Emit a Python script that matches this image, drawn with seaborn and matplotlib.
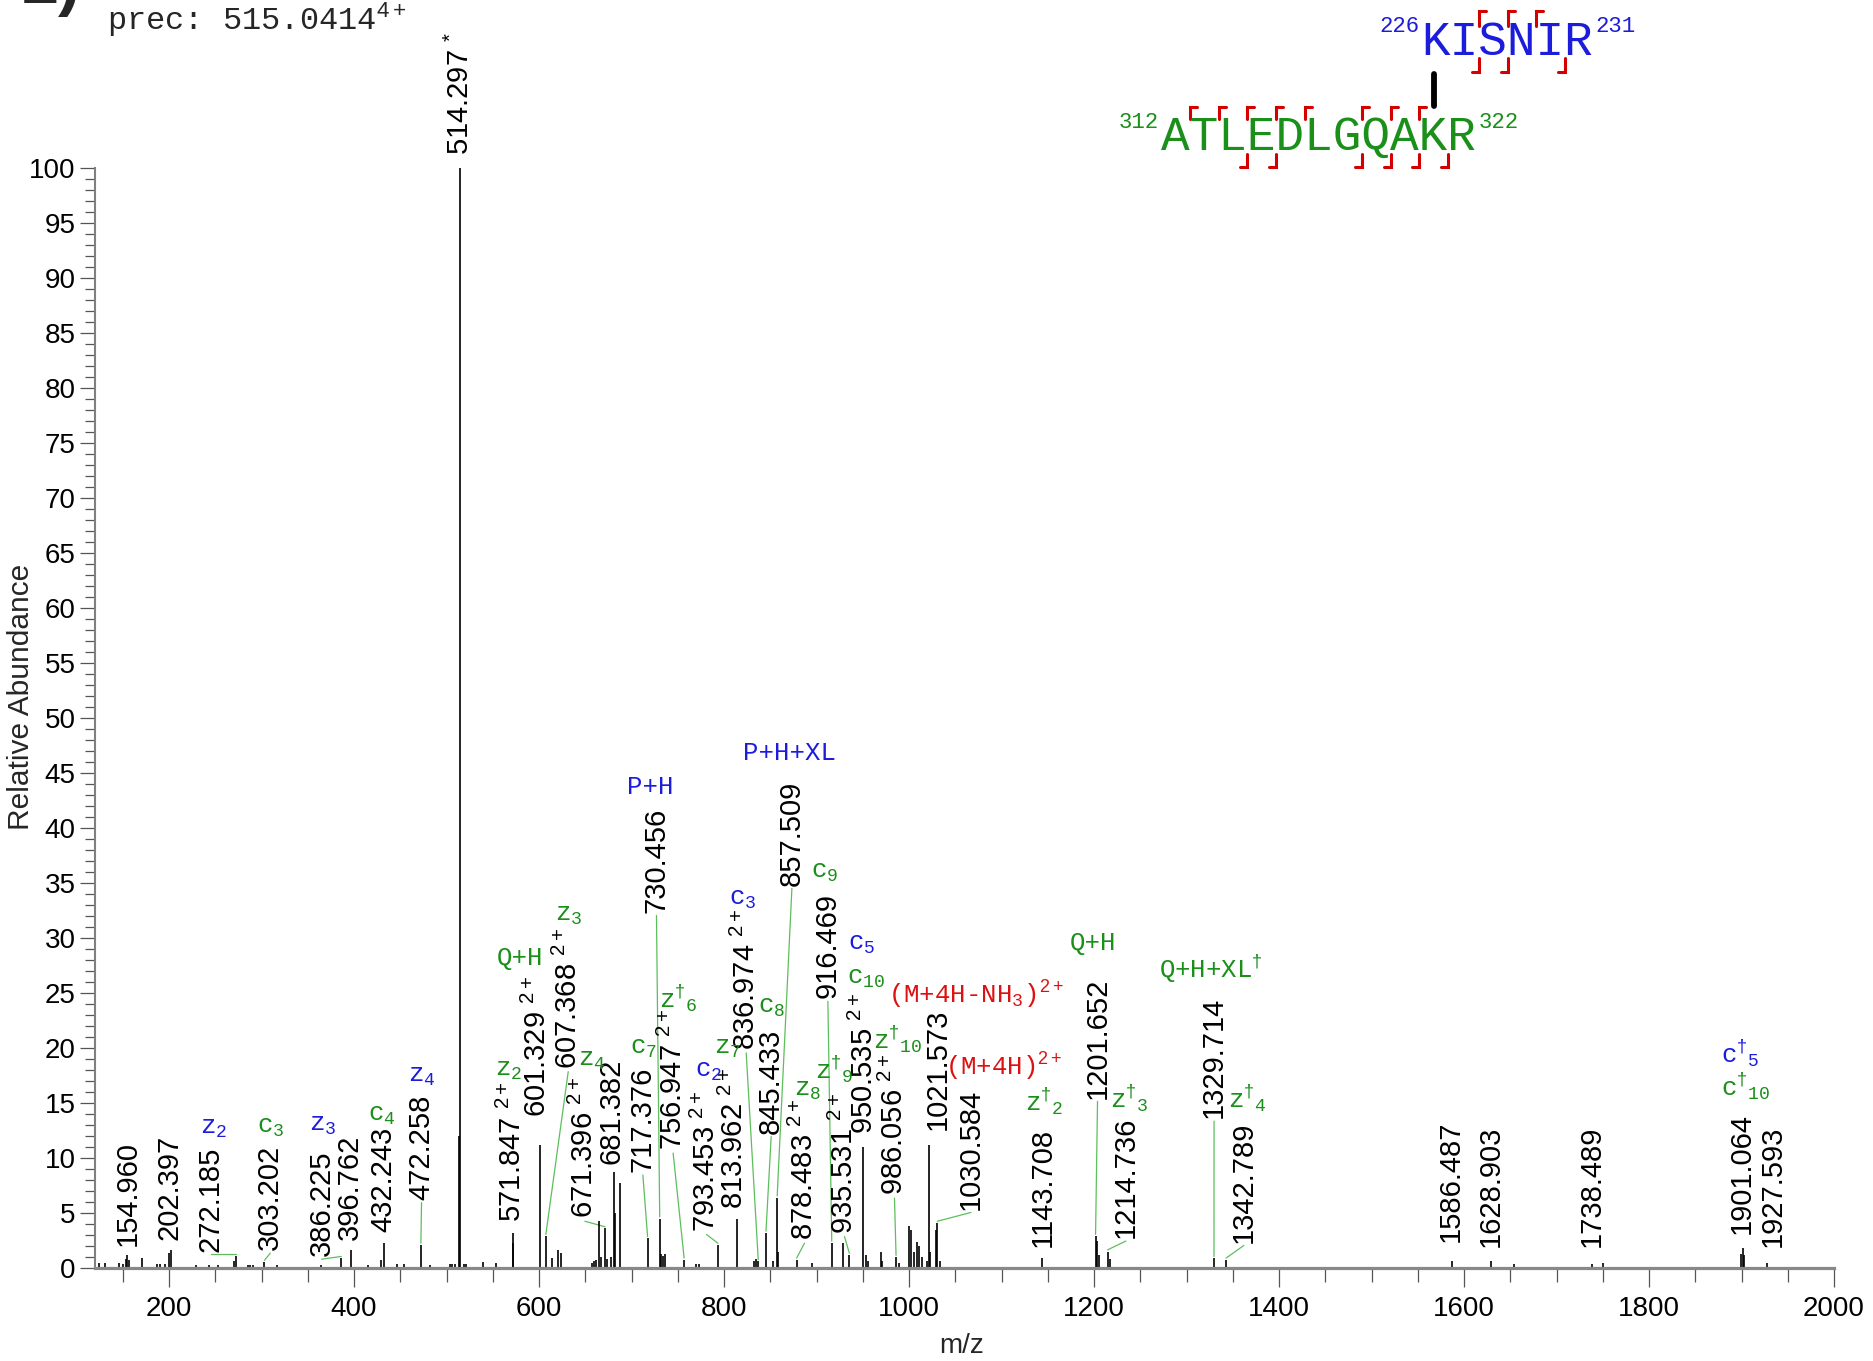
import numpy as np
import pandas as pd
import matplotlib
matplotlib.use("Agg")
import matplotlib.pyplot as plt
import seaborn as sns
from matplotlib.lines import Line2D
from matplotlib.ticker import MultipleLocator

# ------------------------------------------------------------------ data
peak_mz = [124.7, 131.0, 145.5, 150.0, 154.0, 155.0, 157.0, 170.6, 187.5, 190.0,
           196.0, 200.0, 202.4, 229.0, 243.0, 252.6, 270.0, 272.2, 285.4, 288.0,
           291.0, 303.2, 316.7, 364.0, 386.2, 396.8, 414.7, 428.7, 432.2, 447.0,
           454.0, 472.3, 482.0, 503.4, 506.0, 508.7, 513.3, 514.3, 519.3, 521.0,
           539.0, 554.0, 571.8, 572.4, 601.3, 607.4, 613.8, 620.4, 623.7, 657.8,
           659.0, 661.6, 665.0, 666.5, 671.4, 673.7, 677.6, 681.4, 682.4, 687.2,
           717.4, 730.5, 731.6, 734.0, 736.4, 756.9, 769.9, 772.7, 793.5, 814.0,
           832.3, 834.5, 837.0, 845.4, 852.7, 857.5, 858.5, 878.5, 894.6, 916.5,
           928.3, 935.5, 950.5, 953.0, 955.9, 969.6, 971.3, 986.0, 988.9, 1000.0,
           1002.2, 1005.5, 1008.3, 1011.0, 1013.8, 1019.3, 1021.6, 1023.2, 1028.7, 1030.6,
           1033.0, 1143.7, 1201.7, 1203.0, 1205.2, 1214.7, 1216.8, 1329.7, 1342.8, 1586.5,
           1628.9, 1654.0, 1738.5, 1750.0, 1899.5, 1901.1, 1902.5, 1927.6]
peak_int = [0.5, 0.5, 0.5, 0.4, 0.8, 1.2, 0.7, 0.9, 0.4, 0.4,
            0.4, 1.4, 1.6, 0.3, 0.3, 0.3, 0.6, 1.1, 0.3, 0.3,
            0.3, 0.55, 0.3, 0.3, 0.9, 1.6, 0.3, 0.7, 2.3, 0.4,
            0.4, 2.1, 0.3, 0.4, 0.4, 0.4, 12.0, 100.0, 0.4, 0.4,
            0.55, 0.45, 3.2, 2.3, 11.2, 2.9, 0.9, 1.6, 1.4, 0.5,
            0.6, 0.7, 4.3, 1.0, 3.6, 0.8, 1.0, 8.7, 5.0, 7.7,
            2.7, 4.5, 1.3, 1.1, 1.3, 0.75, 0.4, 0.4, 2.1, 4.5,
            0.6, 0.8, 0.6, 3.2, 0.6, 6.4, 1.5, 0.75, 0.5, 2.3,
            2.3, 1.2, 11.0, 1.2, 0.6, 1.5, 0.6, 1.0, 0.5, 3.8,
            3.5, 1.5, 2.4, 2.0, 1.0, 0.6, 11.2, 1.5, 3.5, 4.1,
            0.6, 0.9, 2.9, 2.5, 1.2, 1.5, 0.8, 0.9, 0.75, 0.6,
            0.6, 0.35, 0.4, 0.5, 1.3, 1.8, 1.2, 0.5]

label_text = ["154.960", "202.397", "272.185", "303.202", "386.225", "396.762",
              "432.243", "472.258", "514.297", "571.847", "601.329", "607.368",
              "671.396", "681.382", "717.376", "730.456", "756.947", "793.453",
              "813.962", "836.974", "845.433", "857.509", "878.483", "916.469",
              "935.531", "950.535", "986.056", "1021.573", "1030.584", "1143.708",
              "1201.652", "1214.736", "1329.714", "1342.789", "1586.487", "1628.903",
              "1738.489", "1901.064", "1927.593"]
label_sup = ["", "", "", "", "", "",
             "", "", "*", "2+", "2+", "2+",
             "2+", "", "", "", "2+", "2+",
             "2+", "2+", "", "", "2+", "",
             "2+", "2+", "2+", "", "", "",
             "", "", "", "", "", "",
             "", "", ""]
label_x = [155.1, 201.0, 245.0, 309.5, 365.0, 395.4,
           431.5, 473.0, 514.7, 571.4, 598.0, 631.6,
           649.6, 678.5, 712.3, 727.0, 745.0, 781.0,
           810.8, 824.0, 851.0, 873.4, 887.0, 912.3,
           930.3, 951.9, 984.3, 1031.0, 1067.0, 1144.5,
           1203.8, 1234.4, 1329.8, 1362.0, 1585.3, 1629.3,
           1738.4, 1900.3, 1933.8]
label_y = [2.0, 2.5, 1.5, 1.6, 1.05, 2.56,
           3.3, 6.2, 101.2, 4.2, 13.7, 18.1,
           4.5, 9.5, 8.7, 32.3, 10.7, 3.3,
           5.4, 19.8, 12.2, 34.75, 2.5, 24.5,
           3.1, 12.2, 6.6, 12.5, 5.3, 1.95,
           15.4, 2.7, 13.6, 2.3, 2.4, 1.9,
           1.9, 3.1, 1.9]
nan = np.nan
leader_mz = [nan, nan, 272.2, 303.2, 386.2, nan,
             nan, 472.3, nan, nan, nan, 607.4,
             671.4, nan, 717.4, 730.5, 756.9, 793.5,
             nan, 837.0, 845.4, 857.5, 878.5, 916.5,
             935.5, nan, 986.0, nan, 1030.6, nan,
             1201.7, 1214.7, 1329.7, 1342.8, nan, nan,
             nan, nan, nan]
leader_int = [nan, nan, 1.1, 0.55, 0.9, nan,
              nan, 2.1, nan, nan, nan, 2.9,
              3.6, nan, 2.7, 4.5, 0.75, 2.1,
              nan, 0.6, 3.2, 6.4, 0.75, 2.3,
              1.2, nan, 1.0, nan, 4.1, nan,
              2.9, 1.5, 0.9, 0.75, nan, nan,
              nan, nan, nan]

ion_text = [r"z$_{\mathtt{2}}$", r"c$_{\mathtt{3}}$", r"z$_{\mathtt{3}}$", r"c$_{\mathtt{4}}$",
            r"z$_{\mathtt{4}}$", r"z$_{\mathtt{2}}$", "Q+H", r"z$_{\mathtt{3}}$",
            r"z$_{\mathtt{4}}$", r"c$_{\mathtt{7}}$", "P+H", r"z$^{\dagger}{}_{\mathtt{6}}$",
            r"c$_{\mathtt{2}}$", r"z$_{\mathtt{7}}$", r"c$_{\mathtt{3}}$", r"c$_{\mathtt{8}}$",
            "P+H+XL", r"z$_{\mathtt{8}}$", r"c$_{\mathtt{9}}$", r"z$^{\dagger}{}_{\mathtt{9}}$",
            r"c$_{\mathtt{5}}$", r"c$_{\mathtt{10}}$", r"z$^{\dagger}{}_{\mathtt{10}}$",
            r"(M+4H-NH$_{\mathtt{3}}$)$^{\mathrm{2+}}$", r"(M+4H)$^{\mathrm{2+}}$",
            "Q+H", r"z$^{\dagger}{}_{\mathtt{2}}$", r"z$^{\dagger}{}_{\mathtt{3}}$",
            r"Q+H+XL$^{\dagger}$", r"z$^{\dagger}{}_{\mathtt{4}}$",
            r"c$^{\dagger}{}_{\mathtt{5}}$", r"c$^{\dagger}{}_{\mathtt{10}}$"]
ion_color = ["b", "g", "b", "g",
             "b", "g", "g", "g",
             "g", "g", "b", "g",
             "b", "g", "b", "g",
             "b", "g", "g", "g",
             "b", "g", "g",
             "r", "r",
             "g", "g", "g",
             "g", "g",
             "b", "g"]
ion_x = [248.2, 309.5, 366.0, 430.0,
         473.5, 567.6, 579.5, 631.6,
         656.7, 712.5, 720.5, 750.3,
         783.0, 804.0, 820.5, 851.0,
         871.0, 890.6, 908.7, 919.5,
         948.3, 953.7, 987.9,
         1072.0, 1102.0,
         1198.5, 1146.0, 1238.0,
         1326.0, 1365.8,
         1898.5, 1904.0]
ion_y = [12.2, 12.3, 12.5, 13.4,
         16.9, 17.5, 27.5, 31.6,
         18.4, 19.5, 43.1, 23.7,
         17.4, 19.5, 33.0, 23.2,
         46.2, 15.7, 35.5, 17.2,
         28.9, 25.8, 19.9,
         24.0, 17.5,
         28.9, 14.3, 14.6,
         26.4, 14.6,
         18.7, 15.7]

x_ticks = list(range(200, 2001, 200))
y_ticks = list(range(0, 101, 5))

pep1 = "KISNIR"
pep1_start, pep1_end = "226", "231"
pep1_top_cuts = [2, 3, 4]
pep1_bot_cuts = [2, 3, 5]
pep2 = "ATLEDLGQAKR"
pep2_start, pep2_end = "312", "322"
pep2_top_cuts = [1, 2, 3, 4, 5, 7, 8, 9]
pep2_bot_cuts = [3, 4, 7, 8, 9, 10]
link_pos2 = 9   # K in ATLEDLGQAKR

# ------------------------------------------------------------------ style
sns.set_theme(style="ticks")
plt.rcParams["font.family"] = ["Liberation Sans", "DejaVu Sans"]
plt.rcParams.update({
    "mathtext.fontset": "custom",
    "mathtext.rm": "Liberation Sans",
    "mathtext.tt": "Liberation Mono",
    "mathtext.it": "Liberation Sans:italic",
    "mathtext.bf": "Liberation Sans:bold",
    "mathtext.sf": "Liberation Sans",
})
COL = {"b": "#1c1cdc", "g": "#1a8f1a", "r": "#dd1111"}
LEADER = "#5cbf5c"
MONO = "Liberation Mono"

W, H = 1873, 1361
fig = plt.figure(figsize=(W / 100, H / 100), dpi=100)
fig.patch.set_facecolor("white")


def F(px, py):
    return px / W, 1 - py / H


ax = fig.add_axes([95 / W, 1 - 1268 / H, (1834 - 95) / W, (1268 - 168) / H])
ax.set_facecolor("white")

df = pd.DataFrame({"mz": peak_mz, "intensity": peak_int})
ax.vlines(df["mz"], 0, df["intensity"], color="black", lw=1.2, zorder=3)

ax.set_xlim(120, 2000)
ax.set_ylim(0, 100)
ax.set_xticks(x_ticks)
ax.set_yticks(y_ticks)
ax.xaxis.set_minor_locator(MultipleLocator(50))
ax.yaxis.set_minor_locator(MultipleLocator(1))
ax.tick_params(axis="x", which="major", length=14, width=0.9, color="#555555",
               direction="out", pad=6, labelsize=20, labelcolor="black")
ax.tick_params(axis="x", which="minor", length=10, width=0.9, color="#555555",
               direction="out")
ax.tick_params(axis="y", which="major", length=10.5, width=0.9, color="#555555",
               direction="out", pad=3.5, labelsize=20, labelcolor="black")
ax.tick_params(axis="y", which="minor", length=7, width=0.9, color="#555555",
               direction="out")
sns.despine(ax=ax)
ax.spines["left"].set_color("#808080")
ax.spines["left"].set_linewidth(1.5)
ax.spines["bottom"].set_color("#888888")
ax.spines["bottom"].set_linewidth(2.3)
ax.spines["bottom"].set_zorder(4)
ax.grid(False)

# peak labels and leader lines
for t, s, lx, ly, pm, pi in zip(label_text, label_sup, label_x, label_y,
                                leader_mz, leader_int):
    if s == "*":
        txt = t + r" $^{*}$"
    elif s:
        txt = t + r" $^{\mathrm{" + s + "}}$"
    else:
        txt = t
    ax.text(lx, ly, txt, rotation=90, ha="center", va="bottom", fontsize=21,
            color="black", zorder=5, clip_on=False)
    if not np.isnan(pm):
        ax.plot([lx, pm], [ly - 0.25, pi + 0.15], color=LEADER, lw=0.9,
                zorder=2, clip_on=False)

# ion annotations
for t, c, x, y in zip(ion_text, ion_color, ion_x, ion_y):
    ax.text(x, y, t, color=COL[c], family=MONO, fontsize=18.5, ha="center",
            va="baseline", zorder=5, clip_on=False)

# axis titles
fig.text(*F(21.5, 697), "Relative Abundance", rotation=90, ha="center",
         va="center", fontsize=21.5)
fig.text(*F(962, 1346), "m/z", ha="center", va="center", fontsize=20)

# top-left texts
fig.text(*F(22, 3), "2)", fontsize=48, fontweight="bold", ha="left", va="baseline")
fig.text(*F(107, 30), r"prec: 515.0414$^{\mathrm{4+}}$", family=MONO,
         fontsize=23, ha="left", va="baseline")

# peptide graphic
cw = 28.67
p1x, p1y = 1421.5, 55
p2x, p2y = 1161.2, 150
fig.text(*F(p1x, p1y), pep1, family=MONO, fontsize=34.4, color=COL["b"],
         ha="left", va="baseline")
fig.text(*F(p1x - 2, p1y - 23), pep1_start, family=MONO, fontsize=16,
         color=COL["b"], ha="right", va="baseline")
fig.text(*F(p1x + cw * len(pep1) + 2, p1y - 23), pep1_end, family=MONO,
         fontsize=16, color=COL["b"], ha="left", va="baseline")
fig.text(*F(p2x, p2y), pep2, family=MONO, fontsize=34.4, color=COL["g"],
         ha="left", va="baseline")
fig.text(*F(p2x - 2, p2y - 22), pep2_start, family=MONO, fontsize=16,
         color=COL["g"], ha="right", va="baseline")
fig.text(*F(p2x + cw * len(pep2) + 2, p2y - 22), pep2_end, family=MONO,
         fontsize=16, color=COL["g"], ha="left", va="baseline")

RED = "#d40000"


def bracket_top(x, y0, y1):
    xs = [x + 7, x, x]
    ys = [y0, y0, y1]
    fig.add_artist(Line2D([F(a, b)[0] for a, b in zip(xs, ys)],
                          [F(a, b)[1] for a, b in zip(xs, ys)],
                          color=RED, lw=2.2, solid_joinstyle="miter"))


def bracket_bot(x, y0, y1):
    xs = [x, x, x - 7]
    ys = [y0, y1, y1]
    fig.add_artist(Line2D([F(a, b)[0] for a, b in zip(xs, ys)],
                          [F(a, b)[1] for a, b in zip(xs, ys)],
                          color=RED, lw=2.2, solid_joinstyle="miter"))


for i in pep1_top_cuts:
    bracket_top(p1x + i * cw, 11, 26)
for i in pep1_bot_cuts:
    bracket_bot(p1x + i * cw, 58, 72)
for i in pep2_top_cuts:
    bracket_top(p2x + i * cw, 107, 119)
for i in pep2_bot_cuts:
    bracket_bot(p2x + i * cw, 154, 167)

lx = p2x + (link_pos2 + 0.5) * cw
fig.add_artist(Line2D([F(lx, 74)[0], F(lx, 106)[0]], [F(lx, 74)[1], F(lx, 106)[1]],
                      color="black", lw=4.2))

fig.savefig("out.png", dpi=100, facecolor="white")
